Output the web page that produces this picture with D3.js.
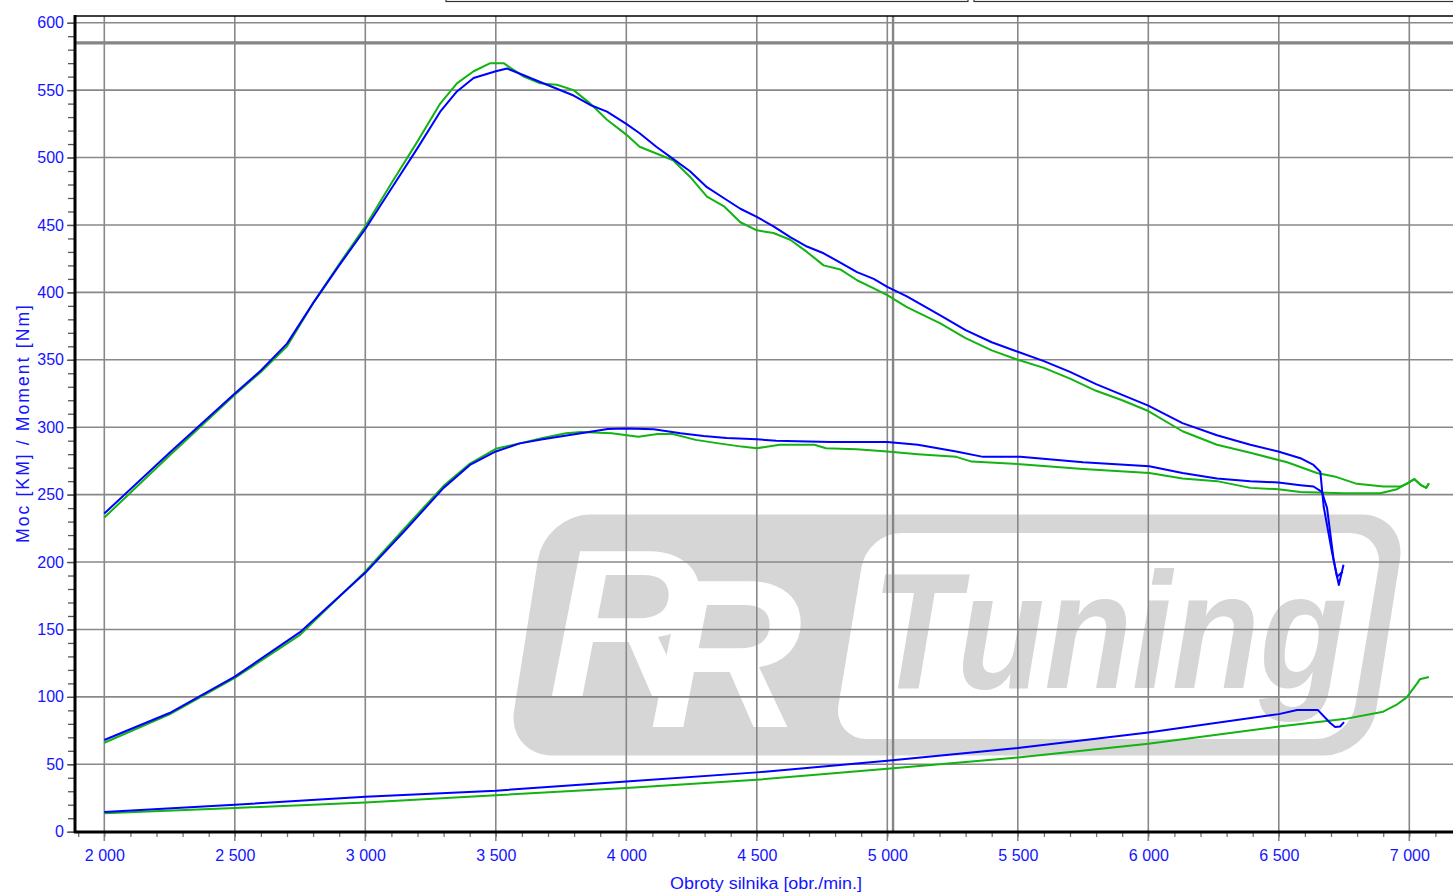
<!DOCTYPE html>
<html>
<head>
<meta charset="utf-8">
<script src="https://cdn.jsdelivr.net/npm/d3@7"></script>
<style>
  body { margin: 0; background: #fff; }
  svg { display: block; font-family: "Liberation Sans", Arial, sans-serif; }
</style>
</head>
<body>
<div id="chart-container"></div>
<script>
// readings [rpm, value]
const torqueBlue = [[2000,236],[2250,281],[2500,325],[2600,342],[2700,362],[2800,392],[2900,420],[3000,447],[3100,477],[3200,507],[3287,534],[3351,549],[3415,559],[3500,564],[3543,566],[3607,561],[3670,556],[3734,551],[3798,546],[3862,539],[3926,534],[4000,525],[4051,518],[4115,508],[4179,499],[4243,490],[4309,478],[4373,470],[4437,462],[4500,456],[4564,449],[4628,441],[4692,434],[4756,429],[4820,422],[4884,415],[4948,410],[5000,404],[5075,397],[5203,383],[5300,372],[5400,363],[5500,356],[5600,349],[5700,341],[5800,332],[5900,324],[6000,316],[6131,303],[6263,294],[6391,287],[6498,282],[6583,277],[6633,272],[6659,267],[6672,241],[6704,207],[6730,183],[6748,198]];
const torqueGreen = [[2000,233],[2250,279],[2500,324],[2600,341],[2700,360],[2800,392],[2900,421],[3000,449],[3100,481],[3200,512],[3287,540],[3351,555],[3415,564],[3479,570],[3530,570],[3607,560],[3670,555],[3734,554],[3798,550],[3862,540],[3926,528],[4000,517],[4051,508],[4115,503],[4179,498],[4243,486],[4309,471],[4373,464],[4437,452],[4500,446],[4564,444],[4628,439],[4692,430],[4756,420],[4820,417],[4884,409],[4948,403],[5000,398],[5075,389],[5203,377],[5300,366],[5400,357],[5500,350],[5600,344],[5700,336],[5800,327],[5900,320],[6000,312],[6131,297],[6263,287],[6391,281],[6532,274],[6646,266],[6722,263],[6799,258],[6901,256],[6966,256],[6990,258],[7019,261.5],[7045,257],[7065,255],[7075,258.5]];
const powerBlue = [[2000,68],[2250,88],[2500,115],[2750,148],[3000,192],[3150,223],[3300,255],[3401,272],[3500,282],[3592,288],[3680,291],[3826,295.5],[3929,298.7],[4000,299],[4105,298.5],[4208,295.5],[4296,293.5],[4384,292],[4500,291],[4574,290],[4780,289],[5000,289],[5117,287],[5264,282],[5367,278],[5510,278],[5750,274],[6004,271],[6131,266],[6263,262],[6391,260],[6498,259],[6583,257],[6633,256],[6665,252],[6685,240],[6710,202],[6723,189],[6745,193]];
const powerGreen = [[2000,66],[2250,87],[2500,114],[2750,146],[3000,193],[3150,225],[3300,256.5],[3401,273],[3500,284],[3592,288],[3680,292],[3769,295.5],[3826,296.5],[3944,295.5],[4046,293],[4120,295],[4178,295],[4266,290.6],[4354,288],[4442,285.6],[4500,284.4],[4588,287],[4721,287],[4765,284.4],[4882,283.7],[5000,282],[5117,280],[5264,278],[5323,274.5],[5510,272.6],[5750,269],[6004,266],[6131,262],[6263,260],[6391,255],[6498,254],[6583,252],[6748,251],[6889,251],[6953,254],[6980,257],[7019,261.5],[7045,257],[7065,255],[7075,258.5]];
const lowerBlue = [[2000,14.6],[2500,20],[3000,26],[3500,30.4],[4000,37.3],[4500,44],[5000,52.6],[5500,62],[6000,73.6],[6500,87.2],[6570,90.2],[6650,90.2],[6697,80.6],[6716,77.6],[6735,78],[6750,81.3]];
const lowerGreen = [[2000,13.6],[2500,17.6],[3000,21.7],[3500,27],[4000,32.4],[4500,38.5],[5000,46.7],[5500,55],[6000,65.2],[6500,78],[6750,83.5],[6900,89],[6950,94],[6990,99.6],[7030,110],[7040,113],[7075,114.7]];

const xTicks = [2000, 2500, 3000, 3500, 4000, 4500, 5000, 5500, 6000, 6500, 7000];
const yTicks = [0, 50, 100, 150, 200, 250, 300, 350, 400, 450, 500, 550, 600];
const markerRpm = 5022;
const markerValue = 585;

let W = 1453, H = 893;
let plotLeft = 75, plotTop = 16, plotBottom = 832;

var svg = d3.select("#chart-container").append("svg")
  .attr("width", W).attr("height", H);

let x = d3.scaleLinear().domain([2000, 7000]).range([104.3, 1409.3]);
let y = d3.scaleLinear().domain([0, 600]).range([831.7, 22.7]);

let fmt = d3.formatLocale({ decimal: ",", thousands: " ", grouping: [3], currency: ["", ""] }).format(",");

// legend boxes cut at top
svg.append("rect").attr("x", 446).attr("y", -10).attr("width", 522).attr("height", 11.5)
  .attr("fill", "#fff").attr("stroke", "#333").attr("stroke-width", 1.2);
svg.append("rect").attr("x", 974).attr("y", -10).attr("width", 500).attr("height", 11.5)
  .attr("fill", "#fff").attr("stroke", "#333").attr("stroke-width", 1.2);

// watermark logo
let wm = svg.append("g").attr("class", "watermark");
wm.append("rect")
  .attr("transform", "translate(0,635) skewX(-9)")
  .attr("x", 526).attr("y", -120.5).attr("width", 862).attr("height", 241)
  .attr("rx", 45).attr("fill", "#d6d6d6");
wm.append("rect")
  .attr("transform", "translate(0,636) skewX(-9.5)")
  .attr("x", 850).attr("y", -103).attr("width", 517).attr("height", 206)
  .attr("rx", 34).attr("fill", "#fff");
wm.append("text")
  .attr("x", 548).attr("y", 697)
  .attr("dx", "0 -52").attr("dy", "0 30")
  .attr("font-size", 212).attr("font-weight", "bold").attr("font-style", "italic")
  .attr("fill", "#fff").text("RR");
wm.append("text").attr("x", 872).attr("y", 688)
  .attr("font-size", 165).attr("font-weight", "bold").attr("font-style", "italic")
  .attr("textLength", 475).attr("lengthAdjust", "spacingAndGlyphs")
  .attr("fill", "#d6d6d6").text("Tuning");

// grid
svg.append("g").attr("class", "grid-y")
  .selectAll("line").data(yTicks).enter().append("line")
  .attr("x1", plotLeft).attr("x2", W)
  .attr("y1", d => y(d)).attr("y2", d => y(d))
  .attr("stroke", "#888").attr("stroke-width", 1.6);
svg.append("g").attr("class", "grid-x")
  .selectAll("line").data(xTicks).enter().append("line")
  .attr("x1", d => x(d)).attr("x2", d => x(d))
  .attr("y1", plotTop).attr("y2", plotBottom + 9)
  .attr("stroke", "#888").attr("stroke-width", 1.6);

// cursor lines
svg.append("line").attr("x1", plotLeft).attr("x2", W)
  .attr("y1", y(markerValue)).attr("y2", y(markerValue))
  .attr("stroke", "#858585").attr("stroke-width", 3.2);
svg.append("line").attr("x1", x(markerRpm)).attr("x2", x(markerRpm))
  .attr("y1", plotTop).attr("y2", plotBottom)
  .attr("stroke", "#858585").attr("stroke-width", 2.4);

// curves
let line = d3.line().x(d => x(d[0])).y(d => y(d[1]));
let series = [
  { data: lowerGreen, color: "#12b312" },
  { data: powerGreen, color: "#12b312" },
  { data: torqueGreen, color: "#12b312" },
  { data: lowerBlue, color: "#0000ff" },
  { data: powerBlue, color: "#0000ff" },
  { data: torqueBlue, color: "#0000ff" }
];
svg.append("g").selectAll("path").data(series).enter().append("path")
  .attr("d", d => line(d.data))
  .attr("fill", "none")
  .attr("stroke", d => d.color)
  .attr("stroke-width", 2)
  .attr("stroke-linejoin", "round");

// y axis
svg.append("g").attr("transform", "translate(" + plotLeft + ",0)")
  .call(d3.axisLeft(y).tickValues(d3.range(0, 601, 10)).tickSize(7).tickFormat(""))
  .call(g => g.select(".domain").remove())
  .call(g => g.selectAll("line").attr("stroke", "#555").attr("stroke-width", 1.3));
svg.append("g").attr("transform", "translate(" + plotLeft + ",0)")
  .call(d3.axisLeft(y).tickValues(yTicks).tickSize(8).tickPadding(3))
  .call(g => g.select(".domain").remove())
  .call(g => g.selectAll("line").attr("stroke", "#555").attr("stroke-width", 1.3))
  .call(g => g.selectAll("text").attr("fill", "#1414ff")
    .style("font-size", "16px").style("font-family", "'Liberation Sans', Arial, sans-serif"));

// x axis
svg.append("g").attr("transform", "translate(0," + plotBottom + ")")
  .call(d3.axisBottom(x).tickValues(d3.range(1900, 7101, 100)).tickSize(5).tickFormat(""))
  .call(g => g.select(".domain").remove())
  .call(g => g.selectAll("line").attr("stroke", "#777").attr("stroke-width", 1.3));
svg.append("g").attr("transform", "translate(0," + plotBottom + ")")
  .call(d3.axisBottom(x).tickValues(xTicks).tickSize(0).tickPadding(18).tickFormat(fmt))
  .call(g => g.select(".domain").remove())
  .call(g => g.selectAll("text").attr("fill", "#1414ff")
    .style("font-size", "16px").style("font-family", "'Liberation Sans', Arial, sans-serif"));

// frame
svg.append("line").attr("x1", plotLeft).attr("x2", W).attr("y1", plotTop).attr("y2", plotTop)
  .attr("stroke", "#000").attr("stroke-width", 1.6);
svg.append("line").attr("x1", plotLeft).attr("x2", plotLeft).attr("y1", plotTop - 1).attr("y2", plotBottom + 1)
  .attr("stroke", "#000").attr("stroke-width", 3);
svg.append("line").attr("x1", plotLeft - 1).attr("x2", W).attr("y1", plotBottom).attr("y2", plotBottom)
  .attr("stroke", "#000").attr("stroke-width", 3);

// axis titles
svg.append("text")
  .attr("transform", "translate(29,424) rotate(-90)")
  .attr("text-anchor", "middle")
  .attr("textLength", 238).attr("lengthAdjust", "spacing")
  .attr("fill", "#1414ff").style("font-size", "17.5px")
  .text("Moc [KM] / Moment [Nm]");
svg.append("text")
  .attr("x", 766).attr("y", 889)
  .attr("text-anchor", "middle")
  .attr("textLength", 192).attr("lengthAdjust", "spacingAndGlyphs")
  .attr("fill", "#1414ff").style("font-size", "16px")
  .text("Obroty silnika [obr./min.]");
</script>
</body>
</html>
